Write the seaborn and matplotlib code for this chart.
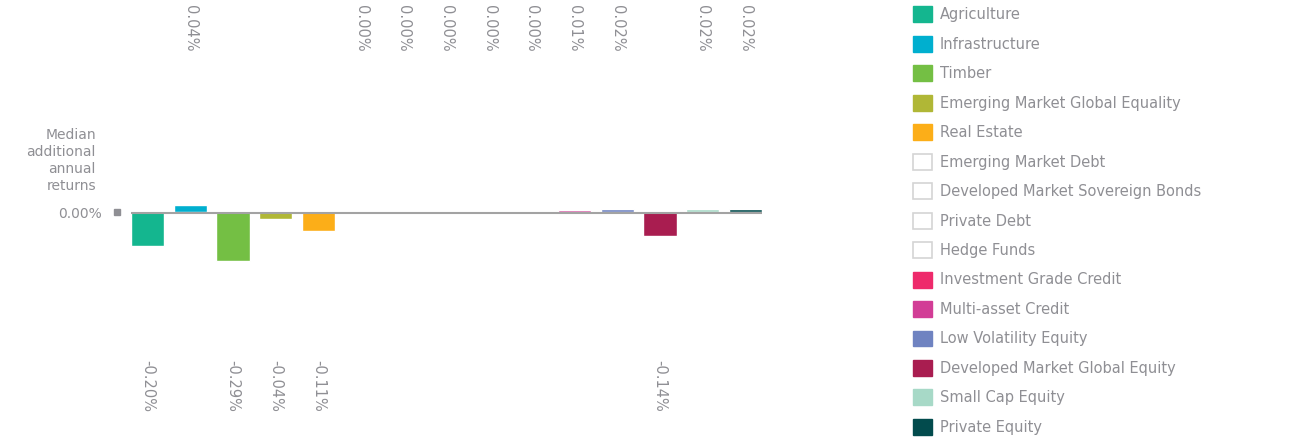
"""Median additional annual returns by asset class."""
import matplotlib
matplotlib.use('Agg')
from matplotlib import pyplot as plt
from matplotlib import patches, transforms
import seaborn as sns

# Data
categories = [
    'Agriculture', 'Infrastructure', 'Timber', 'Emerging Market Global Equality',
    'Real Estate', 'Emerging Market Debt', 'Developed Market Sovereign Bonds',
    'Private Debt', 'Hedge Funds', 'Investment Grade Credit', 'Multi-asset Credit',
    'Low Volatility Equity', 'Developed Market Global Equity', 'Small Cap Equity',
    'Private Equity',
]
returns = [-0.20, 0.04, -0.29, -0.04, -0.11, 0.00, 0.00, 0.00, 0.00, 0.00,
           0.01, 0.02, -0.14, 0.02, 0.02]
colours = ['#14b68f', '#00afcf', '#74bf44', '#b0b736', '#fcae18', None, None,
           None, None, '#ee2a6b', '#d23d96', '#6f83c1', '#a91d50', '#a7d9c7',
           '#024b4d']

grey = '#8f8f94'
sns.set_style('white')
plt.rcParams['font.family'] = ['DejaVu Sans']

fig = plt.figure(figsize=(13.01, 4.41), dpi=100)
# axes: x from 131 to 762 px, zero line at 212 px from top, 170 px per 1%
ax = fig.add_axes([131 / 1301, 59 / 441, 631 / 1301, 340 / 441])

palette = [c if c else '#ffffff' for c in colours]
sns.barplot(x=categories, y=returns, hue=categories, palette=palette,
            width=0.78, legend=False, saturation=1, ax=ax)
ax.set_xlim(-0.39, 14.39)
ax.set_ylim(-1.0, 1.0)
# zero line, nudged down a pixel so the tiny positive bars stay visible
line_trans = ax.get_yaxis_transform() + transforms.ScaledTranslation(
    0, -1 / 100, fig.dpi_scale_trans)
ax.plot([0, 1], [0, 0], color='#a3a3a3', linewidth=1.5, zorder=3,
        transform=line_trans, solid_capstyle='butt')
for s in ax.spines.values():
    s.set_visible(False)
ax.set_xticks([])
ax.set_yticks([0], ['0.00%'])
ax.tick_params(axis='y', length=0, pad=21, labelsize=10, labelcolor=grey)
ax.set_xlabel('')
ax.set_ylabel('')

# small square marker next to the zero label
trans_sq = transforms.blended_transform_factory(ax.transAxes, ax.transData)
ax.plot([-14 / 631], [0], marker='s', markersize=4.5, color='#8f8f94',
        transform=trans_sq, clip_on=False)

# axis title
fig.text(96 / 1301, 1 - 128 / 441, 'Median\nadditional\nannual\nreturns',
         ha='right', va='top', fontsize=10, color=grey, linespacing=1.28)

# value labels: positives at the top, negatives at the bottom
trans = transforms.blended_transform_factory(ax.transData, fig.transFigure)
for i, v in enumerate(returns):
    y = 1 - 5 / 441 if v >= 0 else 1 - 360 / 441
    ax.text(i, y, f'{v:.2f}%', rotation=270, ha='center', va='top',
            fontsize=10.5, color=grey, transform=trans)

# legend
handles = []
for c in colours:
    if c:
        handles.append(patches.Patch(facecolor=c, edgecolor=c))
    else:
        handles.append(patches.Patch(facecolor='white', edgecolor='#d4d4d4',
                                     linewidth=1.2))
leg = fig.legend(handles, categories, loc='upper left',
                 bbox_to_anchor=(913 / 1301, 1 - 6.5 / 441), frameon=False,
                 fontsize=10.5, handlelength=1.3, handleheight=1.3,
                 handletextpad=0.55, labelspacing=0.93, borderpad=0,
                 borderaxespad=0)
for t in leg.get_texts():
    t.set_color(grey)

fig.savefig('out.png', dpi=100)
